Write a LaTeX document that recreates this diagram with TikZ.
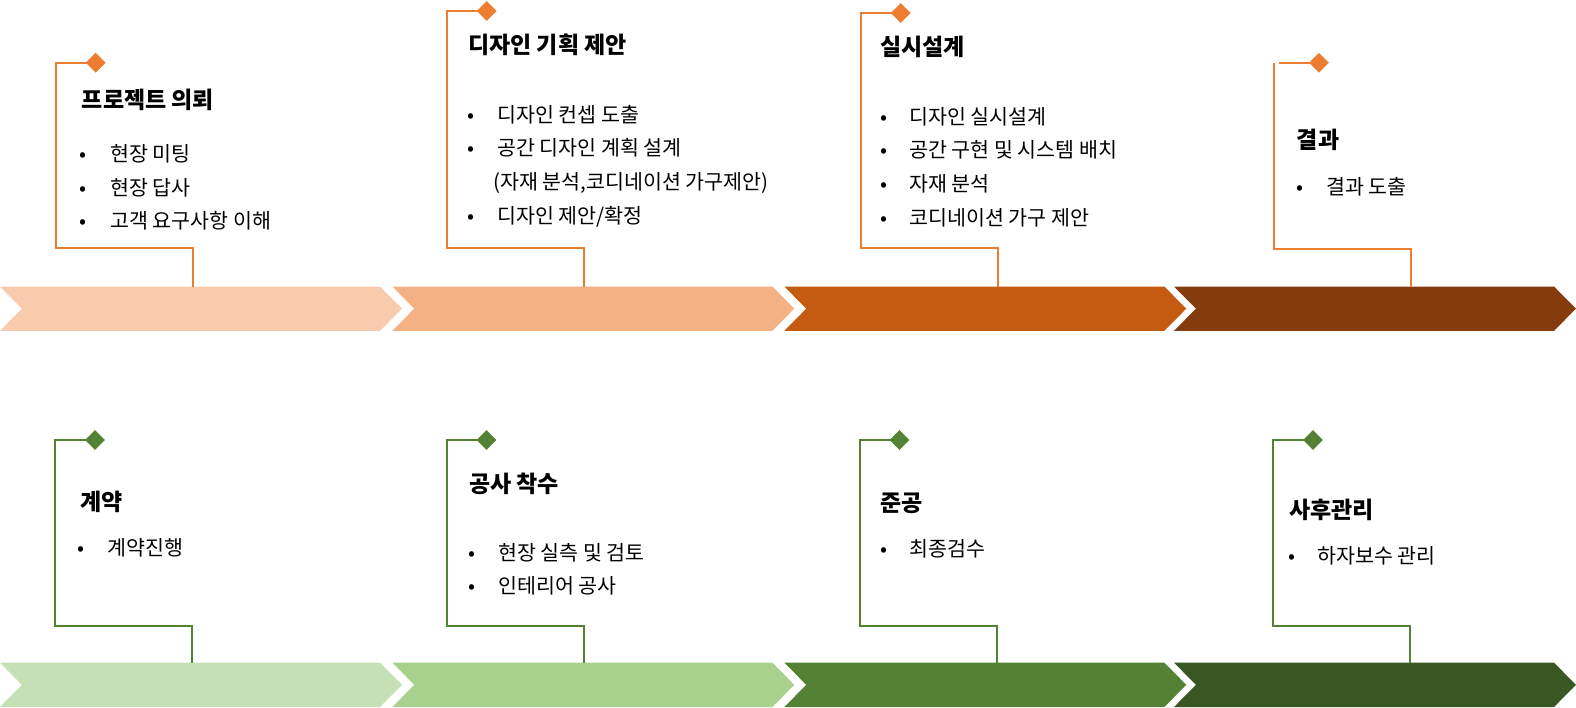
\documentclass[tikz,border=0pt]{standalone}
\usepackage{fontspec}
\setmainfont{Noto Sans CJK KR}
\usetikzlibrary{shapes.geometric}
\definecolor{oA}{HTML}{F8CBAD}
\definecolor{oB}{HTML}{F4B183}
\definecolor{oC}{HTML}{C55A11}
\definecolor{oD}{HTML}{843C0C}
\definecolor{oL}{HTML}{ED7D31}
\definecolor{gA}{HTML}{C5E0B4}
\definecolor{gB}{HTML}{A9D18E}
\definecolor{gC}{HTML}{548235}
\definecolor{gD}{HTML}{385723}
\definecolor{gL}{HTML}{548235}
\tikzset{
  conn/.style={draw=#1, line width=2pt},
  dia/.style={diamond, fill=#1, inner sep=0pt, minimum width=20pt, minimum height=20pt, draw=none},
  ttl/.style={anchor=base west, inner sep=0pt, font=\fontsize{23}{27}\selectfont\bfseries},
  itm/.style={anchor=base west, inner sep=0pt, font=\fontsize{20.6}{24}\selectfont},
  bul/.style={anchor=base, inner sep=0pt, font=\fontsize{20.6}{24}\selectfont},
}
\newcommand\chevshape[5]{%
  \fill[#4] (#2,#3) -- ++(380,0) -- ++(22,22.15) -- ++(-22,22.15) -- ++(-380,0) -- ++(22,-22.15) -- cycle;
  \coordinate (#1) at (#5,#3);}
\newcommand\itemline[5]{%
  \node[bul] (#1b) at (#2,#4+7.6) {•};
  \node[itm] (#1) at (#3,#4+7.6) {#5};}
\begin{document}
\begin{tikzpicture}[x=1pt,y=-1pt]
\useasboundingbox (0,0) rectangle (1576,707);
% chevrons top
\chevshape{c1}{0}{286.5}{oA}{192.7}
\chevshape{c2}{392.3}{286.5}{oB}{583.7}
\chevshape{c3}{784.3}{286.5}{oC}{998}
\chevshape{c4}{1174}{286.5}{oD}{1411}
% chevrons bottom
\chevshape{e1}{0}{662.7}{gA}{192}
\chevshape{e2}{392.3}{662.7}{gB}{584}
\chevshape{e3}{784.3}{662.7}{gC}{997}
\chevshape{e4}{1174}{662.7}{gD}{1410}
% corner coordinates
\coordinate (d1) at (95.7,62.7);
\coordinate (d2) at (486.7,11);
\coordinate (d3) at (900.7,13);
\coordinate (d4) at (1319,62.7);
\coordinate (f1) at (95,440);
\coordinate (f2) at (486.5,440);
\coordinate (f3) at (899.5,440);
\coordinate (f4) at (1313,440);
\coordinate (k1) at (55.7,248);
\coordinate (k2) at (447,248);
\coordinate (k3) at (861,248);
\coordinate (k4a) at (1279,62.7);
\coordinate (k4b) at (1274,63.3);
\coordinate (k4c) at (1274,248.5);
\coordinate (m1) at (54.5,626);
\coordinate (m2) at (447,626);
\coordinate (m3) at (860,626);
\coordinate (m4) at (1273,626);
% connectors
\draw[conn=oL] (d1) -| (k1) -| (c1);
\draw[conn=oL] (d2) -| (k2) -| (c2);
\draw[conn=oL] (d3) -| (k3) -| (c3);
\draw[conn=oL] (d4) -- (k4a);
\draw[conn=oL] (k4b) -- (k4c) -| (c4);
\draw[conn=gL] (f1) -| (m1) -| (e1);
\draw[conn=gL] (f2) -| (m2) -| (e2);
\draw[conn=gL] (f3) -| (m3) -| (e3);
\draw[conn=gL] (f4) -| (m4) -| (e4);
% diamonds
\node[dia=oL] (dd1) at (d1) {};
\node[dia=oL] (dd2) at (d2) {};
\node[dia=oL] (dd3) at (d3) {};
\node[dia=oL] (dd4) at (d4) {};
\node[dia=gL] (ff1) at (f1) {};
\node[dia=gL] (ff2) at (f2) {};
\node[dia=gL] (ff3) at (f3) {};
\node[dia=gL] (ff4) at (f4) {};
% top texts
\node[ttl] (t1) at (81.7,100+8.5) {프로젝트 의뢰};
\itemline{a11}{83.5}{110}{153.5}{현장 미팅}
\itemline{a12}{83.5}{110}{187.5}{현장 답사}
\itemline{a13}{83.5}{110}{220.5}{고객 요구사항 이해}
\node[ttl] (t2) at (468,45+8.5) {디자인 기획 제안};
\itemline{a21}{470.5}{497}{115}{디자인 컨셉 도출}
\itemline{a22}{470.5}{497}{148}{공간 디자인 계획 설계}
\node[itm] (a23) at (493,182+7.6) {(자재 분석,코디네이션 가구제안)};
\itemline{a24}{470.5}{497}{216}{디자인 제안/확정}
\node[ttl] (t3) at (880,47+8.5) {실시설계};
\itemline{a31}{883.5}{909}{117}{디자인 실시설계}
\itemline{a32}{883.5}{909}{150}{공간 구현 및 시스템 배치}
\itemline{a33}{883.5}{909}{184}{자재 분석}
\itemline{a34}{883.5}{909}{218}{코디네이션 가구 제안}
\node[ttl] (t4) at (1296.7,140+8.5) {결과};
\itemline{a41}{1299.5}{1326}{186.7}{결과 도출}
% bottom texts
\node[ttl] (u1) at (80,501.7+8.5) {계약};
\itemline{b11}{81.5}{107.3}{548}{계약진행}
\node[ttl] (u2) at (469,484+8.5) {공사 착수};
\itemline{b21}{471.5}{498}{553}{현장 실측 및 검토}
\itemline{b22}{471.5}{498}{586}{인테리어 공사}
\node[ttl] (u3) at (880,503+8.5) {준공};
\itemline{b31}{883.5}{909}{549}{최종검수}
\node[ttl] (u4) at (1289,510+8.5) {사후관리};
\itemline{b41}{1291.5}{1317}{556}{하자보수 관리}
\end{tikzpicture}
\end{document}
